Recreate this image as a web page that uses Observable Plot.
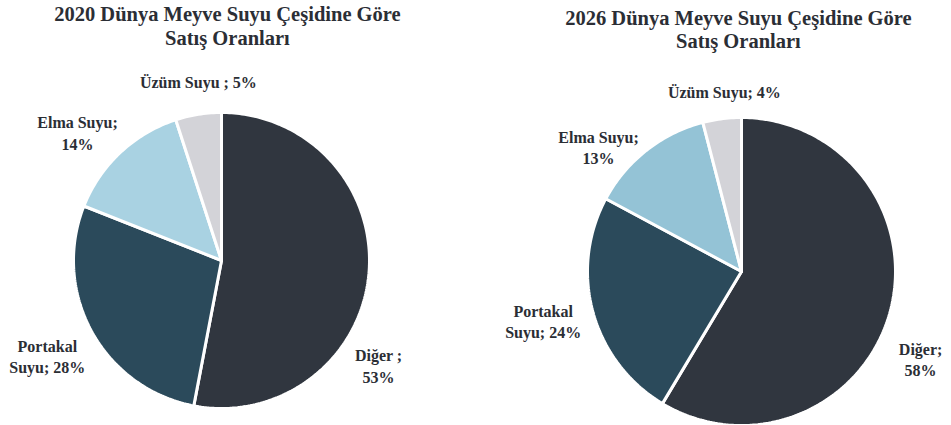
<!DOCTYPE html>
<html><head><meta charset="utf-8">
<script src="https://cdn.jsdelivr.net/npm/d3@7"></script>
<script src="https://cdn.jsdelivr.net/npm/@observablehq/plot@0.6"></script>
<style>
body{margin:0;background:#fff;}
#wrap{display:flex;flex-direction:row;width:951px;height:425px;}
#wrap svg{flex:none;}
</style></head><body><div id="wrap"></div>
<script>
// ---- data ----
const categories = ["Diğer", "Portakal Suyu", "Elma Suyu", "Üzüm Suyu"];
const values2020 = [53, 28, 14, 5];
const values2026 = [58, 24, 13, 4];
const labels2020 = ["Diğer ;\n53%", "Portakal\nSuyu; 28%", "Elma Suyu;\n14%", "Üzüm Suyu ; 5%"];
const labels2026 = ["Diğer;\n58%", "Portakal\nSuyu; 24%", "Elma Suyu;\n13%", "Üzüm Suyu; 4%"];
const titles = ["2020 Dünya Meyve Suyu Çeşidine Göre\nSatış Oranları", "2026 Dünya Meyve Suyu Çeşidine Göre\nSatış Oranları"];

// ---- layout (pixels / unit-radius coordinates) ----
const layouts = [
  {values: values2020, labels: labels2020, title: titles[0], left: 0, width: 476, cx: 221, cy: 260, r: 148,
   colors: ["#30363f", "#2b4a5b", "#a9d2e2", "#d3d3d8"],
   labelPos: [[1.061, -0.707], [-1.177, -0.643], [-0.973, 0.867], [-0.156, 1.211]],
   titlePos: [0.04, 1.588]},
  {values: values2026, labels: labels2026, title: titles[1], left: 476, width: 475, cx: 741, cy: 271, r: 154,
   colors: ["#30363f", "#2b4a5b", "#94c3d6", "#d3d3d8"],
   labelPos: [[1.163, -0.565], [-1.288, -0.320], [-0.928, 0.810], [-0.111, 1.170]],
   titlePos: [-0.02, 1.575]}
];

const H = 425;
const wrap = document.getElementById("wrap");

for (const L of layouts) {
  const arcs = d3.pie().sort(null).startAngle(0).endAngle(2 * Math.PI)(L.values);
  const points = [];
  arcs.forEach((a, i) => {
    const cat = categories[i];
    points.push({cat, x: 0, y: 0});
    const n = Math.max(4, Math.ceil((a.endAngle - a.startAngle) / (Math.PI / 180)));
    for (let k = 0; k <= n; k++) {
      const t = a.startAngle + (a.endAngle - a.startAngle) * k / n;
      points.push({cat, x: Math.sin(t), y: Math.cos(t)});
    }
    points.push({cat, x: 0, y: 0});
  });
  const labelData = L.labels.map((text, i) => ({text, x: L.labelPos[i][0], y: L.labelPos[i][1]}));
  const cxLocal = L.cx - L.left;

  const chart = Plot.plot({
    width: L.width, height: H, margin: 0,
    style: {fontFamily: "'Liberation Serif', serif", background: "white"},
    x: {domain: [(0 - cxLocal) / L.r, (L.width - cxLocal) / L.r], axis: null},
    y: {domain: [(L.cy - H) / L.r, L.cy / L.r], axis: null},
    color: {domain: categories, range: L.colors},
    marks: [
      Plot.line(points, {x: "x", y: "y", z: "cat", fill: "cat", stroke: "white", strokeWidth: 3, strokeLinejoin: "miter", curve: "linear"}),
      Plot.text(labelData, {x: "x", y: "y", text: "text", fontSize: 16, fontWeight: "bold", fill: "#2b2e35", lineHeight: 1.35}),
      Plot.text([L.title], {x: () => L.titlePos[0], y: () => L.titlePos[1], text: d => d, fontSize: 20.5, fontWeight: "bold", fill: "#2b2e35", lineHeight: 1.15})
    ]
  });
  wrap.appendChild(chart);
}
</script>
</body></html>
